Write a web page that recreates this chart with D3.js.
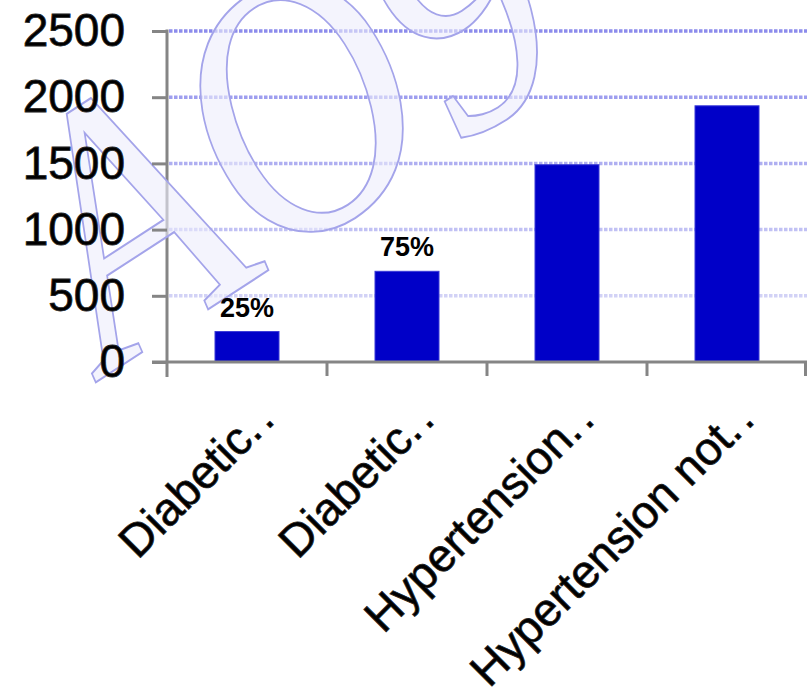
<!DOCTYPE html>
<html>
<head>
<meta charset="utf-8">
<script src="https://cdn.jsdelivr.net/npm/d3@7"></script>
<style>
  html, body { margin: 0; padding: 0; background: #ffffff; }
  svg { display: block; }
</style>
</head>
<body>
<svg id="chart" width="807" height="690"></svg>
<script>
// Category labels as printed under the axis (truncated with two dots)
const categories = ["Diabetic", "Diabetic", "Hypertension", "Hypertension not"];
// Bar heights
const values = [230, 685, 1490, 1935];
// Percentage annotations above the bars
const pctLabels = ["25%", "75%", "", ""];
// Y-axis ticks
const yTicks = [0, 500, 1000, 1500, 2000, 2500];

const W = 807, H = 690;
const plot = { left: 167, right: 807, top: 31, bottom: 362 };

const svg = d3.select("#chart");
svg.append("rect").attr("width", W).attr("height", H).attr("fill", "#ffffff");

const idx = d3.range(categories.length);
const x = d3.scaleBand().domain(idx).range([plot.left, plot.right]).padding(0);
const y = d3.scaleLinear().domain([0, 2500]).range([plot.bottom, plot.top]);
const gridColor = d3.scaleLinear().domain([500, 2500]).range(["#d2d2f6", "#8c8cec"]);

const axisColor = "#858585";
const labelFont = "'Liberation Sans', Arial, Helvetica, sans-serif";

// Dotted horizontal gridlines
svg.append("g").selectAll("line")
  .data(yTicks.filter(d => d > 0))
  .join("line")
  .attr("x1", plot.left + 2).attr("x2", plot.right)
  .attr("y1", d => y(d)).attr("y2", d => y(d))
  .attr("stroke", d => gridColor(d))
  .attr("stroke-width", 3.5)
  .attr("stroke-dasharray", "3.5,1.5");

// Bars
const barFrac = 0.4;
svg.append("g").selectAll("rect")
  .data(values)
  .join("rect")
  .attr("x", (d, i) => x(i) + x.bandwidth() * (1 - barFrac) / 2)
  .attr("width", x.bandwidth() * barFrac)
  .attr("y", d => y(d))
  .attr("height", d => y(0) - y(d))
  .attr("fill", "#0000c8")
  .attr("stroke", "#3a3ad8")
  .attr("stroke-width", 1);

// Y axis (labels + ticks)
const yAxis = d3.axisLeft(y)
  .tickValues(yTicks)
  .tickSize(15)
  .tickPadding(27)
  .tickFormat(d3.format("d"));
const gy = svg.append("g")
  .attr("transform", `translate(${plot.left},0)`)
  .call(yAxis);
gy.select(".domain").remove();
gy.selectAll(".tick line").attr("stroke", axisColor).attr("stroke-width", 3);
gy.selectAll(".tick text")
  .attr("font-family", labelFont)
  .attr("font-size", 46)
  .attr("fill", "#000")
  .attr("stroke", "#222")
  .attr("stroke-width", 0.8);

// Axis lines
svg.append("line")
  .attr("x1", plot.left).attr("x2", plot.left)
  .attr("y1", plot.top - 1.5).attr("y2", plot.bottom + 15)
  .attr("stroke", axisColor).attr("stroke-width", 3);
svg.append("line")
  .attr("x1", plot.left - 15).attr("x2", plot.right)
  .attr("y1", plot.bottom).attr("y2", plot.bottom)
  .attr("stroke", axisColor).attr("stroke-width", 3);

// Category boundary ticks below the baseline
const bounds = idx.map(i => x(i)).concat([x(idx[idx.length - 1]) + x.bandwidth()]);
svg.append("g").selectAll("line")
  .data(bounds.slice(1))
  .join("line")
  .attr("x1", d => Math.min(d, W - 1.5)).attr("x2", d => Math.min(d, W - 1.5))
  .attr("y1", plot.bottom).attr("y2", plot.bottom + 14)
  .attr("stroke", axisColor).attr("stroke-width", 3);

// Faint watermark lettering
svg.append("text")
  .attr("transform", "translate(110,373) rotate(-33) scale(0.85,1)")
  .attr("font-family", "'Liberation Serif', 'DejaVu Serif', serif")
  .attr("font-style", "italic")
  .attr("font-size", 365)
  .attr("fill", "#ececfb")
  .attr("fill-opacity", 0.6)
  .attr("stroke", "#a4a4ea")
  .attr("stroke-width", 2)
  .text("AO9");

// Tick labels sit above the watermark
gy.raise();

// Percentage labels above bars
svg.append("g").selectAll("text")
  .data(values)
  .join("text")
  .attr("x", (d, i) => x(i) + x.bandwidth() / 2)
  .attr("y", d => y(d) - 15)
  .attr("text-anchor", "middle")
  .attr("font-family", labelFont)
  .attr("font-weight", "bold")
  .attr("font-size", 27)
  .attr("fill", "#000")
  .text((d, i) => pctLabels[i]);

// Rotated category labels
const cat = svg.append("g").selectAll("text")
  .data(categories)
  .join("text")
  .attr("transform", (d, i) => `translate(${x(i) + x.bandwidth() / 2 + 32},${plot.bottom + 57}) rotate(-45)`)
  .attr("text-anchor", "end")
  .attr("font-family", labelFont)
  .attr("font-size", 46)
  .attr("fill", "#000")
  .attr("stroke", "#222")
  .attr("stroke-width", 0.8);
cat.append("tspan").text(d => d);
cat.append("tspan").attr("letter-spacing", 4).text("..");
</script>
</body>
</html>
